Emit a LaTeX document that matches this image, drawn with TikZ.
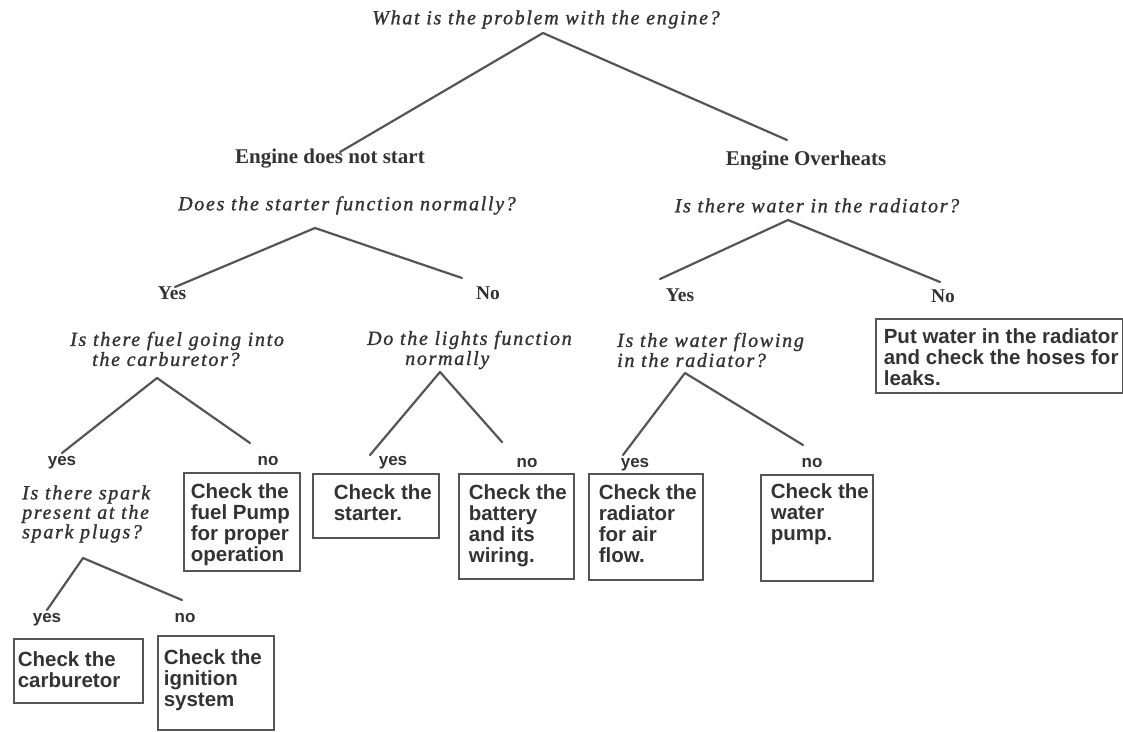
\documentclass[tikz,border=0pt]{standalone}
\usepackage{fontspec}
\setmainfont{Liberation Serif}
\newfontfamily\qfam[LetterSpace=8.5,FakeBold=1.2]{Liberation Serif}
\newfontfamily\sfam{Liberation Sans}
\definecolor{ink}{HTML}{333333}
\definecolor{linec}{HTML}{555555}
\definecolor{boxc}{HTML}{555555}
\newcommand\bxt[5]{\parbox[c][#2][t]{#1}{\fontsize{20.5}{21}\selectfont\raggedright\leftskip=#3\relax\vspace*{#4}#5}}
\tikzset{
  q/.style={font=\qfam\itshape\fontsize{20}{20}\selectfont, inner sep=0, text=ink},
  lab/.style={font=\bfseries\fontsize{21}{24}\selectfont, inner sep=0, text=ink},
  yn/.style={font=\bfseries\fontsize{19.5}{22}\selectfont, inner sep=0, text=ink},
  ynl/.style={font=\sfam\bfseries\fontsize{17}{19}\selectfont, inner sep=0, text=ink},
  ans/.style={draw=boxc, line width=1.6pt, inner sep=0, font=\sfam\bfseries, text=ink, anchor=north west},
  branch/.style={draw=linec, line width=2.2pt, line cap=round, line join=round}
}
\begin{document}
\begin{tikzpicture}[x=1pt,y=-1pt]
\fill[white] (0,0) rectangle (1123,731);
\useasboundingbox (0,0) rectangle (1123,731);

% questions and labels
\node[q, anchor=mid] (qroot) at (546,22) {What is the problem with the engine?};
\node[lab, anchor=mid] (lstart) at (330,161) {Engine does not start};
\node[lab, anchor=mid] (lover) at (806,163) {Engine Overheats};
\node[q, anchor=mid] (qstarter) at (347,208) {Does the starter function normally?};
\node[q, anchor=mid] (qwater) at (817,210) {Is there water in the radiator?};
\node[yn, anchor=mid] (y1) at (172,297) {Yes};
\node[yn, anchor=mid] (n1) at (488,297) {No};
\node[yn, anchor=mid] (y2) at (680,299) {Yes};
\node[yn, anchor=mid] (n2) at (943,300) {No};
\node[q, anchor=west, align=left] (qfuel) at (70,349) {Is there fuel going into\\\hspace*{22pt}the carburetor?};
\node[q, anchor=west, align=left] (qlights) at (367,350) {Do the lights function\\\hspace*{38pt}normally};
\node[q, anchor=west, align=left] (qflow) at (617,350) {Is the water flowing\\in the radiator?};
\node[q, anchor=west, align=left, font=\qfam\itshape\fontsize{20}{19.5}\selectfont] (qspark) at (22,514) {Is there spark\\present at the\\spark plugs?};

\node[ynl, anchor=mid] (y3) at (62,463) {yes};
\node[ynl, anchor=mid] (n3) at (268,463) {no};
\node[ynl, anchor=mid] (y4) at (393,463) {yes};
\node[ynl, anchor=mid] (n4) at (527,465) {no};
\node[ynl, anchor=mid] (y5) at (635,465) {yes};
\node[ynl, anchor=mid] (n5) at (812,465) {no};
\node[ynl, anchor=mid] (y6) at (47,620) {yes};
\node[ynl, anchor=mid] (n6) at (185,620) {no};

% answer boxes
\node[ans] (bput) at (875,318) {\bxt{247pt}{74pt}{8pt}{10pt}{Put water in the radiator\\and check the hoses for\\leaks.}};
\node[ans] (bfuel) at (183,472) {\bxt{116pt}{98pt}{7pt}{11pt}{Check the\\fuel Pump\\for proper\\operation}};
\node[ans] (bstarter) at (312,473) {\bxt{126pt}{64pt}{21pt}{11pt}{Check the\\starter.}};
\node[ans] (bbatt) at (458,473) {\bxt{115pt}{105pt}{10pt}{11pt}{Check the\\battery\\and its\\wiring.}};
\node[ans] (brad) at (588,473) {\bxt{114pt}{106pt}{10pt}{11pt}{Check the\\radiator\\for air\\flow.}};
\node[ans] (bpump) at (760,474) {\bxt{112pt}{106pt}{10pt}{9pt}{Check the\\water\\pump.}};
\node[ans] (bcarb) at (13,638) {\bxt{129pt}{64pt}{4pt}{13pt}{Check the\\carburetor}};
\node[ans] (bign) at (157,635) {\bxt{116pt}{94pt}{6pt}{14pt}{Check the\\ignition\\system}};

% branch points
\coordinate (r0) at (543,33);  \coordinate (rL) at (340,152); \coordinate (rR) at (787,140);
\coordinate (s0) at (315,228); \coordinate (sL) at (175,287); \coordinate (sR) at (462,278);
\coordinate (w0) at (788,220); \coordinate (wL) at (660,279); \coordinate (wR) at (940,282);
\coordinate (f0) at (157,378); \coordinate (fL) at (62,453);  \coordinate (fR) at (250,443);
\coordinate (l0) at (440,372); \coordinate (lL) at (370,455); \coordinate (lR) at (502,442);
\coordinate (g0) at (685,373); \coordinate (gL) at (623,455); \coordinate (gR) at (803,445);
\coordinate (p0) at (83,558);  \coordinate (pL) at (47,610);  \coordinate (pR) at (182,600);

\draw[branch] (rL) -- (r0) -- (rR);
\draw[branch] (sL) -- (s0) -- (sR);
\draw[branch] (wL) -- (w0) -- (wR);
\draw[branch] (fL) -- (f0) -- (fR);
\draw[branch] (lL) -- (l0) -- (lR);
\draw[branch] (gL) -- (g0) -- (gR);
\draw[branch] (pL) -- (p0) -- (pR);
\end{tikzpicture}
\end{document}
